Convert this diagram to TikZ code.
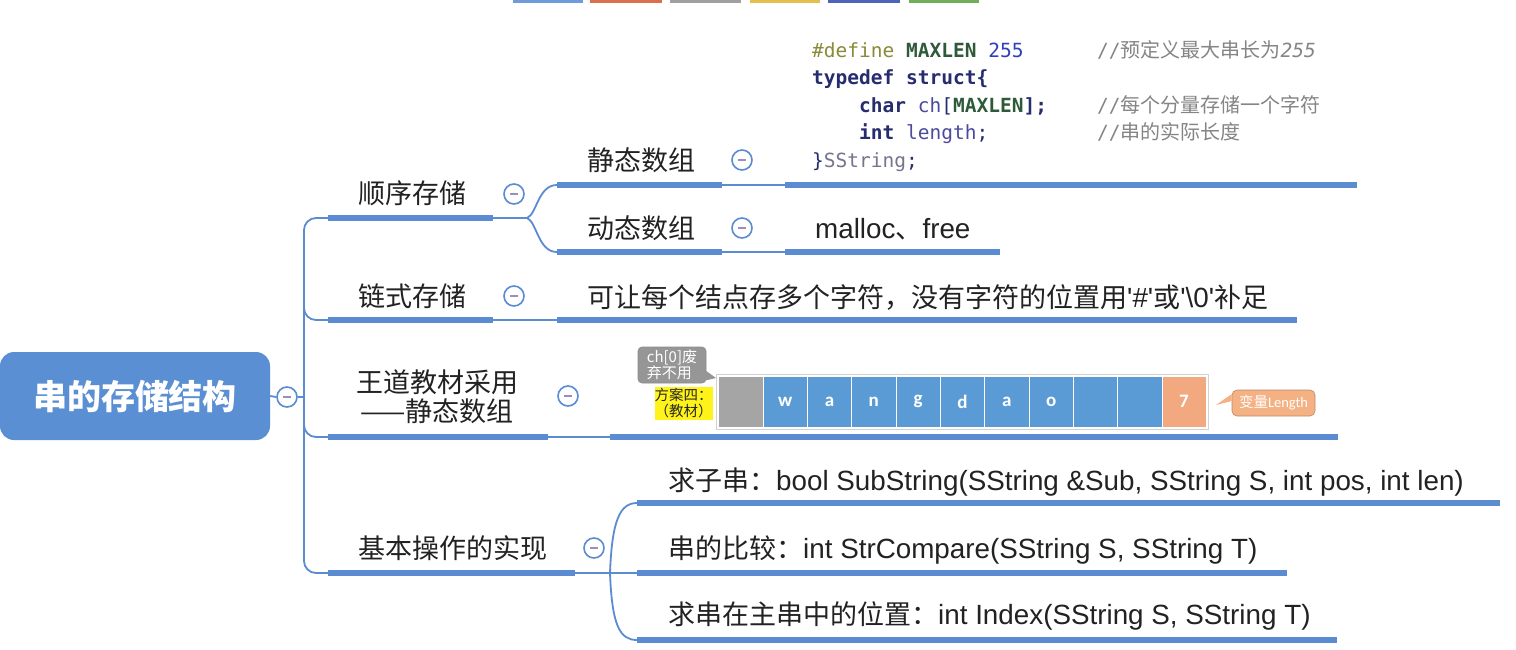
\documentclass[tikz,border=0pt]{standalone}
\usepackage{fontspec}
\newfontfamily\cjk{Noto Sans CJK SC}
\newfontfamily\lat{Liberation Sans}
\newfontfamily\mono{DejaVu Sans Mono}
\newfontfamily\carl{Carlito}
\newcommand\zh{\cjk\fontsize{27}{29}\selectfont}
\definecolor{lineblue}{HTML}{5B8BD0}
\definecolor{rootblue}{HTML}{5B8FD4}
\definecolor{togminus}{HTML}{9A8FB8}
\definecolor{txt}{HTML}{222222}
\definecolor{cdef}{HTML}{8A8A3A}
\definecolor{cmac}{HTML}{2F5A3A}
\definecolor{cnum}{HTML}{2F3FBF}
\definecolor{ckey}{HTML}{262C6E}
\definecolor{cvar}{HTML}{4C4A9E}
\definecolor{ccom}{HTML}{858585}
\definecolor{cstr}{HTML}{77748E}
\definecolor{cellblue}{HTML}{5B9BD5}
\definecolor{cellgray}{HTML}{A5A5A5}
\definecolor{cellorange}{HTML}{F2A97F}
\definecolor{callgray}{HTML}{969696}
\definecolor{callorange}{HTML}{F4B183}
\definecolor{tbA}{HTML}{6F9BD8}
\definecolor{tbB}{HTML}{D9704F}
\definecolor{tbC}{HTML}{A0A0A0}
\definecolor{tbD}{HTML}{E3C04F}
\definecolor{tbE}{HTML}{4F63B8}
\definecolor{tbF}{HTML}{6FAF58}
\tikzset{
  conn/.style={line width=1.8pt, draw=lineblue},
  ul/.style={line width=6pt, draw=lineblue},
  tog/.style={circle, draw=lineblue, line width=1.6pt, fill=white, minimum size=20pt, inner sep=0pt,
    path picture={\draw[line width=1.4pt, togminus] ([xshift=-4pt]path picture bounding box.center) -- ([xshift=4pt]path picture bounding box.center);}},
  lbl/.style={anchor=west, inner sep=0pt, text height=23.5pt, text depth=3pt, font=\lat\fontsize{27.8}{29}\selectfont, text=txt},
  codeln/.style={anchor=base west, inner sep=0pt, font=\mono\fontsize{19.5}{24}\selectfont, text=ckey},
  cell/.style={minimum width=44.3pt, minimum height=51pt, inner sep=0pt, draw=white, line width=0.8pt, fill=cellblue, text=white, font=\carl\bfseries\fontsize{19}{19}\selectfont},
}
\begin{document}
\begin{tikzpicture}[x=1pt,y=-1pt]
\useasboundingbox (0,0) rectangle (1516,649);
\fill[white] (0,0) rectangle (1516,649);
% toolbar fragments at top
\fill[tbA] (513,0) rectangle (583,3);
\fill[tbB] (590,0) rectangle (662,3);
\fill[tbC] (670,0) rectangle (741,3);
\fill[tbD] (750,0) rectangle (820,3);
\fill[tbE] (828,0) rectangle (900,3);
\fill[tbF] (909,0) rectangle (979,3);

% root
\node[fill=rootblue, rounded corners=14pt, minimum width=270pt, minimum height=88pt, inner sep=0pt,
      text=white, font=\cjk\bfseries\fontsize{34}{34}\selectfont] (root) at (135,396) {串的存储结构};
\node[tog] (t0) at (287,397) {};
\coordinate (trunkmid) at (304,397);
\draw[conn] (root.east) -- (t0.west);
\draw[conn] (t0.east) -- (trunkmid);

% trunk
\coordinate (b1s) at (328,218); \coordinate (b1e) at (493,218);
\coordinate (b2s) at (328,320); \coordinate (b2e) at (493,320);
\coordinate (b3s) at (328,437); \coordinate (b3e) at (548,437);
\coordinate (b5s) at (328,573); \coordinate (b5e) at (575,573);
\coordinate (tk1) at (304,218); \coordinate (tk5) at (304,573);
\coordinate (tk2) at (304,300); \coordinate (tk3) at (304,420);
\draw[conn, rounded corners=12pt] (b1s) -- (tk1) -- (tk5) -- (b5s);
\draw[conn, rounded corners=12pt] (tk2) |- (b2s);
\draw[conn, rounded corners=12pt] (tk3) |- (b3s);
\draw[ul] (b1s) -- (b1e);
\draw[ul] (b2s) -- (b2e);
\draw[ul] (b3s) -- (b3e);
\draw[ul] (b5s) -- (b5e);

% level-1 labels
\node[lbl] (n1) at (358,193) {\zh 顺序存储};
\node[tog] (t1) at (514,194) {};
\node[lbl] (n2) at (358,296) {\zh 链式存储};
\node[tog] (t2) at (514,296) {};
\node[anchor=center, inner sep=0pt, align=center, font=\zh, text=txt] (n3) at (437,397) {王道教材采用\\——静态数组};
\node[tog] (t3) at (568,396) {};
\node[lbl] (n5) at (358,548) {\zh 基本操作的实现};
\node[tog] (t5) at (594,548) {};

% sequential storage children
\coordinate (s1) at (527,218);
\coordinate (c1s) at (557,185); \coordinate (c1e) at (722,185);
\coordinate (c2s) at (557,252); \coordinate (c2e) at (722,252);
\draw[conn] (b1e) -- (s1);
\draw[conn] (s1) .. controls (537,214) and (538,185) .. (c1s);
\draw[conn] (s1) .. controls (537,222) and (538,252) .. (c2s);
\draw[ul] (c1s) -- (c1e);
\draw[ul] (c2s) -- (c2e);
\node[lbl] (n11) at (587,160) {\zh 静态数组};
\node[tog] (t11) at (742,160) {};
\node[lbl] (n12) at (587,228) {\zh 动态数组};
\node[tog] (t12) at (742,228) {};

% code block
\coordinate (cds) at (785,185); \coordinate (cde) at (1357,185);
\draw[conn] (c1e) -- (cds);
\draw[ul] (cds) -- (cde);
\node[codeln] (cl1) at (812,57) {{\color{cdef}\#define} {\bfseries\color{cmac}MAXLEN} {\color{cnum}255}};
\node[codeln] (cl2) at (812,84) {{\bfseries typedef struct\{}};
\node[codeln] (cl3) at (859,112) {{\bfseries char} {\color{cvar}ch}[{\bfseries\color{cmac}MAXLEN}{\bfseries ];}};
\node[codeln] (cl4) at (859,139) {{\bfseries int} {\color{cvar}length};};
\node[codeln] (cl5) at (812,167) {\}{\color{cstr}SString};};
\node[codeln, text=ccom] (cm1) at (1097,57) {//{\cjk\fontsize{20}{20}\selectfont 预定义最大串长为}{\itshape 255}};
\node[codeln, text=ccom] (cm3) at (1097,112) {//{\cjk\fontsize{20}{20}\selectfont 每个分量存储一个字符}};
\node[codeln, text=ccom] (cm4) at (1097,139) {//{\cjk\fontsize{20}{20}\selectfont 串的实际长度}};

% malloc free
\coordinate (mfs) at (785,252); \coordinate (mfe) at (1000,252);
\draw[conn] (c2e) -- (mfs);
\draw[ul] (mfs) -- (mfe);
\node[lbl] (n121) at (815,228) {malloc{\zh 、}free};

% linked storage child
\coordinate (l1s) at (557,320); \coordinate (l1e) at (1297,320);
\draw[conn] (b2e) -- (l1s);
\draw[ul] (l1s) -- (l1e);
\node[lbl] (n21) at (587,297) {{\zh 可让每个结点存多个字符，没有字符的位置用}'\#'{\zh 或}'\textbackslash 0'{\zh 补足}};

% textbook array
\coordinate (a1s) at (610,437); \coordinate (a1e) at (1338,437);
\draw[conn] (b3e) -- (a1s);
\draw[ul] (a1s) -- (a1e);
\draw[draw=black!18, line width=0.8pt] (716,374) rectangle (1208,429);
\node[cell, fill=cellgray, minimum width=45pt] (a0) at (740.5,401.5) {};
\foreach \i/\ch in {1/w,2/a,3/n,4/g,5/d,6/a,7/o,8/{},9/{}} {
  \node[cell] (a\i) at ({763+44.33*(\i-0.5)},401.5) {\ch};
}
\node[cell, fill=cellorange, minimum width=44pt] (a10) at (1184,401.5) {7};
% callouts
\node[fill=callgray, draw=black!45, line width=0.6pt, rounded corners=4pt, minimum width=68pt, minimum height=36pt, inner sep=1pt,
      align=left, text=white, font=\cjk\fontsize{15}{16}\selectfont] (gc) at (672,365) {ch[0]废\\弃不用};
\coordinate (gtip) at (716,378);
\fill[callgray] ([xshift=-13pt]gc.south east) -- (gtip) -- ([yshift=-6pt]gc.east) -- cycle;
\node[fill=yellow!90!white, minimum width=57pt, minimum height=33pt, inner sep=0pt, align=center,
      text=black!85, font=\cjk\fontsize{14.5}{16}\selectfont] (yl) at (683.5,403.5) {方案四：\\（教材）};
\node[fill=callorange, draw=cellorange!80!black, line width=0.6pt, rounded corners=5pt, minimum width=83pt, minimum height=26pt, inner sep=1pt,
      text=white, font=\cjk\fontsize{14.5}{15}\selectfont] (oc) at (1273.5,403) {变量{\carl Length}};
\coordinate (otip) at (1216,405);
\fill[callorange] ([yshift=2pt]oc.west) -- (otip) -- ([yshift=9pt]oc.west) -- cycle;

% basic operations
\coordinate (s5) at (610,573);
\coordinate (o1s) at (637,503); \coordinate (o1e) at (1500,503);
\coordinate (o2s) at (637,573); \coordinate (o2e) at (1287,573);
\coordinate (o3s) at (637,640); \coordinate (o3e) at (1337,640);
\draw[conn] (b5e) -- (o2s);
\draw[conn] (s5) .. controls (612,520) and (620,503) .. (o1s);
\draw[conn] (s5) .. controls (612,626) and (620,640) .. (o3s);
\draw[ul] (o1s) -- (o1e);
\draw[ul] (o2s) -- (o2e);
\draw[ul] (o3s) -- (o3e);
\node[lbl] (n51) at (668,480) {{\zh 求子串：}bool SubString(SString \&Sub, SString S, int pos, int len)};
\node[lbl] (n52) at (668,548) {{\zh 串的比较：}int StrCompare(SString S, SString T)};
\node[lbl] (n53) at (668,614) {{\zh 求串在主串中的位置：}int Index(SString S, SString T)};
\end{tikzpicture}
\end{document}
